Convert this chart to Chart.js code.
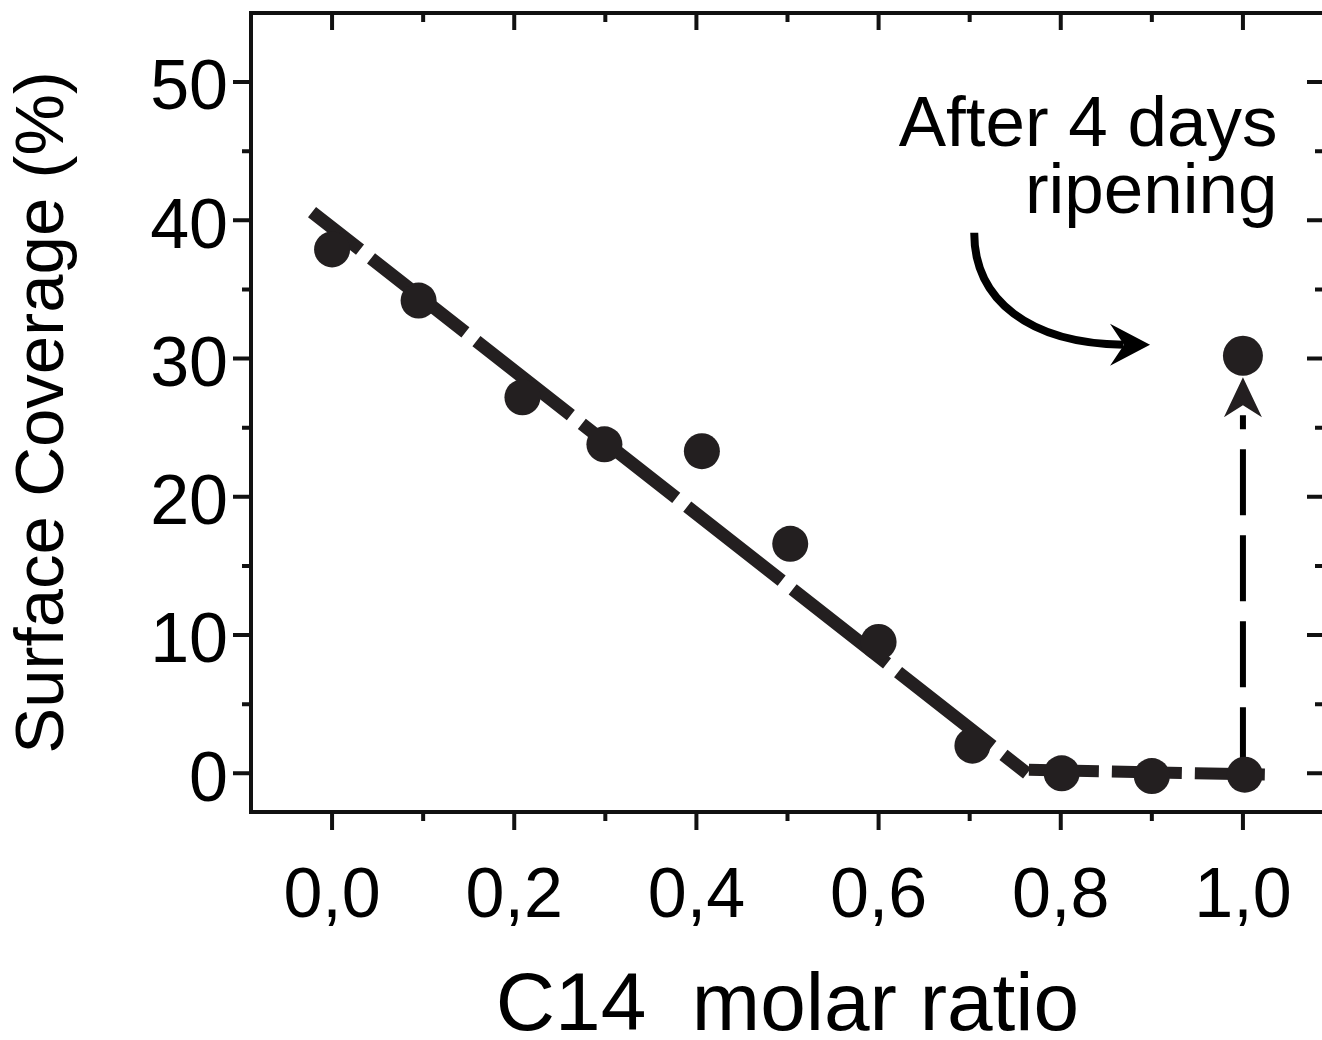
<!DOCTYPE html>
<html>
<head>
<meta charset="utf-8">
<script src="https://cdn.jsdelivr.net/npm/chart.js@4.4.1/dist/chart.umd.min.js"></script>
<style>
  html, body { margin: 0; padding: 0; background: #fff; overflow: hidden; }
  #wrap { width: 1345px; height: 1040px; }
</style>
</head>
<body>
<div id="wrap"><canvas id="chart" width="1345" height="1040"></canvas></div>
<script>
// measured surface coverage against C14 molar ratio
const ratio = [0.0, 0.095, 0.209, 0.299, 0.406, 0.503, 0.600, 0.703, 0.801, 0.900, 1.002];
const coverage = [37.9, 34.2, 27.2, 23.8, 23.3, 16.6, 9.5, 2.0, 0.0, -0.2, -0.1];

// same sample after 4 days ripening
const ripenRatio = [1.0];
const ripenCoverage = [30.2];

// dashed guide lines
const fitX = [-0.022, 0.763];
const fitY = [40.6, 0.0];
const flatX = [0.765, 1.028];
const flatY = [0.25, -0.1];
const jumpX = [1.0, 1.0];
const jumpY = [0.0, 25.9];

// axis ticks
const xTicks = [0, 0.2, 0.4, 0.6, 0.8, 1.0];
const xMinor = [0.1, 0.3, 0.5, 0.7, 0.9];
const yTicks = [0, 10, 20, 30, 40, 50];
const yMinor = [5, 15, 25, 35, 45];

const ink = '#231f20';
const axisInk = '#111111';
const family = '"Liberation Sans", Arial, Helvetica, sans-serif';

Chart.defaults.font.family = family;
Chart.defaults.color = '#000';

const pts = (xs, ys) => xs.map((x, i) => ({ x: x, y: ys[i] }));

// top frame, ticks on all four sides and the annotation
const frame = {
    id: 'frame',
    afterDraw(chart) {
        const { ctx, chartArea: a, scales: { x, y } } = chart;
        ctx.save();
        ctx.strokeStyle = axisInk;
        ctx.lineWidth = 4;
        ctx.lineCap = 'butt';
        ctx.beginPath();
        ctx.moveTo(a.left - 2, a.top);
        ctx.lineTo(a.right + 2, a.top);

        xTicks.forEach(v => {
            const p = x.getPixelForValue(v);
            ctx.moveTo(p, a.bottom); ctx.lineTo(p, a.bottom + 18);
            ctx.moveTo(p, a.top); ctx.lineTo(p, a.top + 17);
        });
        xMinor.forEach(v => {
            const p = x.getPixelForValue(v);
            ctx.moveTo(p, a.bottom); ctx.lineTo(p, a.bottom + 9);
            ctx.moveTo(p, a.top); ctx.lineTo(p, a.top + 9);
        });
        yTicks.forEach(v => {
            const p = y.getPixelForValue(v);
            ctx.moveTo(a.left, p); ctx.lineTo(a.left - 18, p);
            ctx.moveTo(a.right, p); ctx.lineTo(a.right - 17, p);
        });
        yMinor.forEach(v => {
            const p = y.getPixelForValue(v);
            ctx.moveTo(a.left, p); ctx.lineTo(a.left - 9, p);
            ctx.moveTo(a.right, p); ctx.lineTo(a.right - 9, p);
        });
        ctx.stroke();

        // arrowhead on the vertical jump
        ctx.fillStyle = ink;
        const jx = x.getPixelForValue(1.0);
        const jt = y.getPixelForValue(28.65);
        ctx.beginPath();
        ctx.moveTo(jx, jt);
        ctx.lineTo(jx + 19, jt + 40);
        ctx.lineTo(jx, jt + 28);
        ctx.lineTo(jx - 19, jt + 40);
        ctx.closePath();
        ctx.fill();

        // curved arrow
        ctx.strokeStyle = '#000';
        ctx.fillStyle = '#000';
        ctx.lineWidth = 8;
        ctx.beginPath();
        ctx.moveTo(x.getPixelForValue(0.705), y.getPixelForValue(39.1));
        ctx.bezierCurveTo(
            x.getPixelForValue(0.705), y.getPixelForValue(34.2),
            x.getPixelForValue(0.766), y.getPixelForValue(31.1),
            x.getPixelForValue(0.869), y.getPixelForValue(31.0));
        ctx.stroke();
        const tx = x.getPixelForValue(0.898);
        const ty = y.getPixelForValue(31.0);
        ctx.beginPath();
        ctx.moveTo(tx, ty);
        ctx.lineTo(tx - 40, ty - 21);
        ctx.lineTo(tx - 26, ty);
        ctx.lineTo(tx - 40, ty + 21);
        ctx.closePath();
        ctx.fill();

        // annotation text
        ctx.font = '71px ' + family;
        ctx.textAlign = 'right';
        ctx.textBaseline = 'alphabetic';
        const rx = x.getPixelForValue(1.038);
        ctx.fillText('After 4 days', rx, y.getPixelForValue(45.4));
        ctx.fillText('ripening', rx, y.getPixelForValue(40.5));
        ctx.restore();
    }
};

new Chart(document.getElementById('chart'), {
    type: 'scatter',
    data: {
        datasets: [{
            data: pts(ratio, coverage),
            pointRadius: 18,
            backgroundColor: ink,
            borderColor: ink,
            borderWidth: 0
        }, {
            data: pts(ripenRatio, ripenCoverage),
            pointRadius: 20,
            backgroundColor: ink,
            borderColor: ink,
            borderWidth: 0
        }, {
            data: pts(fitX, fitY),
            showLine: true,
            pointRadius: 0,
            borderColor: ink,
            borderWidth: 13,
            borderDash: [120, 14],
            borderDashOffset: 59
        }, {
            data: pts(flatX, flatY),
            showLine: true,
            pointRadius: 0,
            borderColor: ink,
            borderWidth: 12,
            borderDash: [70, 13],
            borderDashOffset: 0
        }, {
            data: pts(jumpX, jumpY),
            showLine: true,
            pointRadius: 0,
            borderColor: '#000',
            borderWidth: 6,
            borderDash: [66, 20],
            borderDashOffset: 0
        }]
    },
    options: {
        responsive: false,
        animation: false,
        devicePixelRatio: 1,
        layout: { autoPadding: false, padding: { top: 13, right: 21, left: 0, bottom: 0 } },
        plugins: {
            legend: { display: false },
            tooltip: { enabled: false }
        },
        scales: {
            x: {
                type: 'linear',
                min: -0.089,
                max: 1.089,
                grid: { display: false, drawTicks: false },
                border: { display: true, width: 4, color: axisInk },
                afterBuildTicks: s => { s.ticks = xTicks.map(v => ({ value: v })); },
                afterFit: s => { s.height = 228; s.paddingLeft = 0; s.paddingRight = 0; },
                ticks: {
                    padding: 44,
                    maxRotation: 0,
                    autoSkip: false,
                    font: { size: 70 },
                    callback: v => v.toFixed(1).replace('.', ',')
                },
                title: {
                    display: true,
                    text: 'C14  molar ratio',
                    font: { size: 82, lineHeight: 0.8 },
                    padding: 0
                }
            },
            y: {
                type: 'linear',
                min: -2.8,
                max: 55,
                grid: { display: false, drawTicks: false },
                border: { display: true, width: 4, color: axisInk },
                afterBuildTicks: s => { s.ticks = yTicks.map(v => ({ value: v })); },
                afterFit: s => { s.width = 251; s.paddingTop = 0; s.paddingBottom = 0; },
                ticks: {
                    padding: 23,
                    labelOffset: 8,
                    font: { size: 70 },
                    callback: v => String(v)
                },
                title: {
                    display: true,
                    text: 'Surface Coverage (%)',
                    font: { size: 69 },
                    padding: { top: 3, bottom: 0 }
                }
            }
        }
    },
    plugins: [frame]
});
</script>
</body>
</html>
